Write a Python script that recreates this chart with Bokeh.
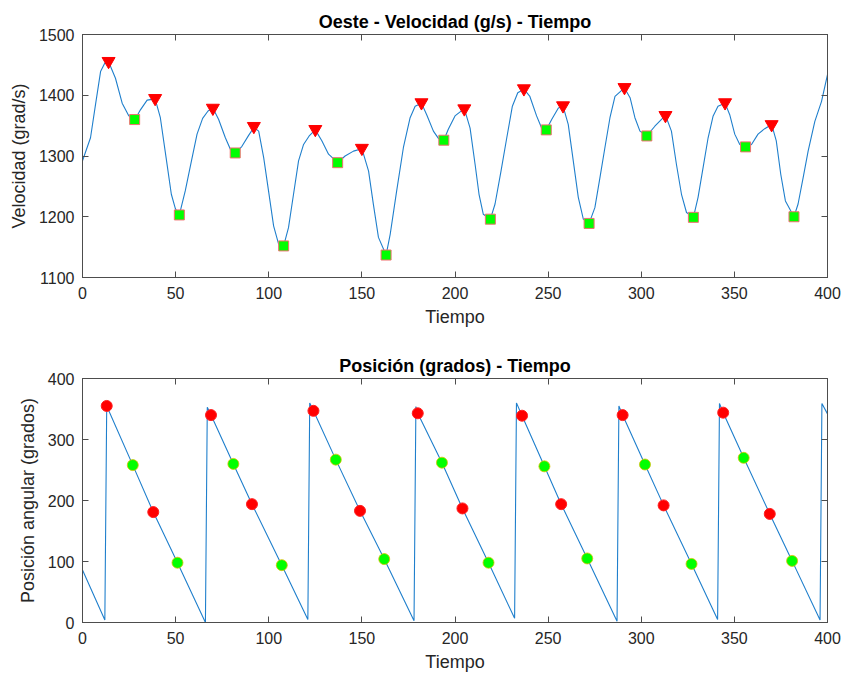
from bokeh.plotting import figure
from bokeh.layouts import column
from bokeh.models import Range1d, LinearAxis, FixedTicker
from bokeh.embed import file_html
from bokeh.resources import INLINE

# ---- Velocity (top panel) ----
vel_t = [0, 4.3, 7, 9.7, 12, 14, 17.7, 21.3, 24.9, 28, 31.1, 34.7, 39, 41.8, 44.9, 47.7, 49.9, 52,
         55.2, 58.5, 61.5, 64.5, 67.4, 70, 73.1, 76.7, 79.4, 82, 85.6, 89.2, 92, 94.6, 97.3, 100,
         102.6, 105.3, 108, 110.6, 113.3, 116, 118.7, 121.7, 125, 128.5, 132.1, 137, 141, 145.5, 150,
         153.6, 156.2, 158.9, 163, 165.2, 168.7, 172.3, 175.9, 178.6, 182, 184.8, 188.4, 191.1, 194,
         196.4, 200, 205, 208.1, 210.8, 212.9, 215.2, 219, 221.5, 224.7, 227.8, 230.8, 233.7, 237,
         240.2, 243.8, 246.5, 249, 251.9, 255.5, 258, 260.8, 263.5, 266.2, 268.9, 272, 275.1, 277.8,
         280.5, 283.2, 285.9, 291, 294, 296.6, 299.3, 303, 307.3, 313, 316.2, 318.9, 321.6, 324.3,
         328, 330.5, 333.2, 335.9, 338.6, 341.2, 345, 347.5, 350.2, 352.9, 356, 359.2, 362.7, 366.3,
         370, 372.5, 374.9, 377.4, 382, 384.2, 386.9, 389.6, 393.2, 396.8, 400]
vel_v = [1292, 1330, 1385, 1439, 1453, 1455, 1428, 1387, 1366, 1359, 1376, 1392, 1394, 1363, 1297,
         1237, 1213, 1203, 1243, 1292, 1336, 1362, 1374, 1379, 1360, 1330, 1311, 1304, 1316, 1334,
         1347, 1341, 1297, 1240, 1185, 1155, 1152, 1182, 1237, 1292, 1319, 1333, 1343, 1325, 1303,
         1289, 1300, 1308, 1312, 1275, 1220, 1166, 1137, 1171, 1243, 1314, 1363, 1382, 1387, 1368,
         1341, 1329, 1326, 1344, 1366, 1378, 1346, 1286, 1237, 1204, 1196, 1221, 1275, 1330, 1382,
         1404, 1410, 1398, 1366, 1346, 1343, 1360, 1379, 1382, 1352, 1292, 1232, 1196, 1189, 1215,
         1264, 1314, 1363, 1398, 1412, 1396, 1363, 1341, 1333, 1349, 1367, 1341, 1286, 1237, 1207,
         1199, 1232, 1281, 1330, 1366, 1382, 1387, 1368, 1336, 1319, 1315, 1319, 1336, 1345, 1352,
         1325, 1270, 1226, 1200, 1221, 1264, 1308, 1357, 1390, 1434]

vmax_t = [14, 39, 70, 92, 125, 150, 182, 205, 237, 258, 291, 313, 345, 370]
vmax_v = [1456, 1395, 1379, 1349, 1344, 1313, 1388, 1378, 1411, 1383, 1413, 1367, 1388, 1352]
vmin_t = [28, 52, 82, 108, 137, 163, 194, 219, 249, 272, 303, 328, 356, 382]
vmin_v = [1360, 1203, 1305, 1152, 1289, 1137, 1326, 1196, 1343, 1189, 1333, 1199, 1315, 1200]

# ---- Position (bottom panel) ----
pos_t = [0, 12, 13, 27, 38, 51, 66, 67, 69, 81, 91, 107, 121, 122, 124, 136, 149, 162, 178, 179,
         180, 193, 204, 218, 232, 233, 236, 248, 257, 271, 287, 288, 290, 302, 312, 327, 341, 342,
         344, 355, 369, 381, 396, 397, 400]
pos_v = [86, 4, 355, 258, 181, 98, 0, 353, 340, 260, 194, 94, 5, 360, 347, 267, 183, 104, 3, 354,
         343, 262, 187, 98, 7, 360, 339, 256, 194, 105, 2, 355, 340, 259, 192, 96, 5, 359, 344, 270,
         178, 101, 4, 359, 342]

pmax_t = [13, 38, 69, 91, 124, 149, 180, 204, 236, 257, 290, 312, 344, 369]
pmax_v = [355, 181, 340, 194, 347, 183, 343, 187, 339, 194, 340, 192, 344, 178]
pmin_t = [27, 51, 81, 107, 136, 162, 193, 218, 248, 271, 302, 327, 355, 381]
pmin_v = [258, 98, 260, 94, 267, 104, 262, 98, 256, 105, 259, 96, 270, 101]

x_ticks = [0, 50, 100, 150, 200, 250, 300, 350, 400]
vel_ticks = [1100, 1200, 1300, 1400, 1500]
pos_ticks = [0, 100, 200, 300, 400]

FONT = "Liberation Sans"
AX = "#4d4d4d"
TXT = "#262626"
BLUE = "#1f7fcc"


def make_fig(title, ylabel, yr, yticks, h, top, bottom):
    p = figure(width=842, height=h, output_backend="svg", toolbar_location=None,
               x_range=Range1d(0, 400), y_range=Range1d(*yr),
               min_border_left=82, min_border_right=15, min_border_top=top,
               min_border_bottom=bottom)
    p.title.text = title
    p.title.align = "center"
    p.title.text_font = FONT
    p.title.text_font_size = "18px"
    p.title.text_font_style = "bold"
    p.title.text_color = "#000000"
    p.title.standoff = 6
    p.xgrid.visible = False
    p.ygrid.visible = False
    p.outline_line_color = AX
    p.outline_line_width = 1
    p.background_fill_color = "white"
    p.border_fill_color = "white"
    for ax, ticks in ((p.xaxis[0], x_ticks), (p.yaxis[0], yticks)):
        ax.ticker = FixedTicker(ticks=ticks)
        ax.minor_tick_line_color = None
        ax.major_tick_in = 6
        ax.major_tick_out = 0
        ax.axis_line_color = AX
        ax.major_tick_line_color = AX
        ax.major_label_text_font = FONT
        ax.major_label_text_font_size = "16px"
        ax.major_label_text_color = TXT
        ax.axis_label_text_font = FONT
        ax.axis_label_text_font_size = "18px"
        ax.axis_label_text_font_style = "normal"
        ax.axis_label_text_color = TXT
    p.xaxis.axis_label = "Tiempo"
    p.yaxis.axis_label = ylabel
    p.xaxis.major_label_standoff = 9
    p.yaxis.major_label_standoff = 8
    p.xaxis.axis_label_standoff = 5
    p.yaxis.axis_label_standoff = 7
    # box ticks on top and right (no labels drawn)
    for loc, ticks in (("above", x_ticks), ("right", yticks)):
        a = LinearAxis(ticker=FixedTicker(ticks=ticks))
        a.major_label_text_font_size = "1px"
        a.major_label_text_color = None
        a.major_label_standoff = 0
        a.minor_tick_line_color = None
        a.major_tick_in = 6
        a.major_tick_out = 0
        a.axis_line_color = AX
        a.major_tick_line_color = AX
        p.add_layout(a, loc)
    return p


p1 = make_fig("Oeste - Velocidad (g/s) - Tiempo", "Velocidad (grad/s)", (1100, 1500), vel_ticks,
              340, 34, 63)
p1.line(vel_t, vel_v, line_color=BLUE, line_width=1.1)
p1.scatter(vmax_t, vmax_v, marker="inverted_triangle", size=13, fill_color="#ff0000",
           line_color="#ff0000")
p1.scatter(vmin_t, vmin_v, marker="square", size=10, fill_color="#00ff00",
           line_color="#f07070", line_width=1)

p2 = make_fig("Posición (grados) - Tiempo", "Posición angular (grados)", (0, 400), pos_ticks,
              335, 38, 53)
p2.line(pos_t, pos_v, line_color=BLUE, line_width=1.1)
p2.scatter(pmax_t, pmax_v, marker="circle", size=11, fill_color="#ff0000", line_color="#ff2020")
p2.scatter(pmin_t, pmin_v, marker="circle", size=11, fill_color="#00ff00", line_color="#d8c000",
           line_width=0.8)

layout = column(p1, p2, spacing=0)
open("out.html", "w").write(file_html(layout, INLINE))
